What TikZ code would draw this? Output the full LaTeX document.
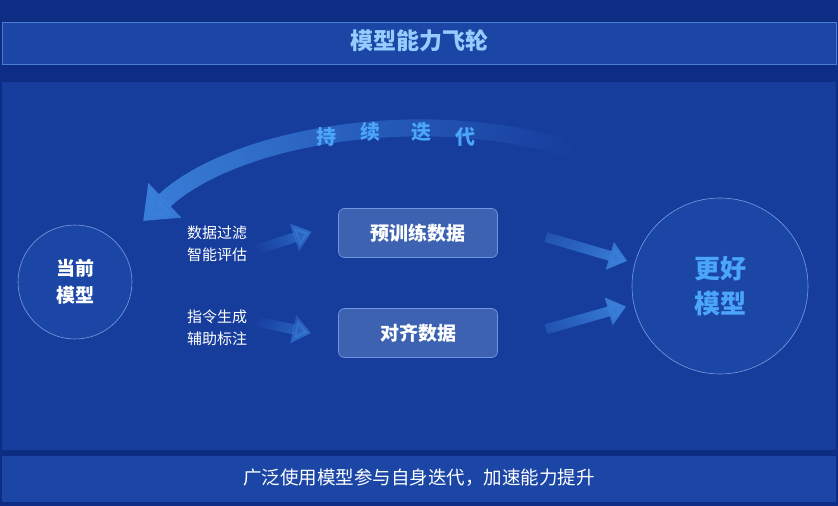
\documentclass[tikz,border=0pt]{standalone}
\usepackage{fontspec}
\setmainfont{Noto Sans CJK SC}
\usetikzlibrary{positioning,calc,arrows.meta,fadings}

\definecolor{bgblue}{RGB}{13,44,132}
\definecolor{panelblue}{RGB}{22,60,156}
\definecolor{barblue}{RGB}{27,70,165}
\definecolor{edgeblue}{RGB}{75,125,215}
\definecolor{arrowblue}{RGB}{58,128,218}
\definecolor{titleblue}{RGB}{150,205,255}
\definecolor{brightblue}{RGB}{75,165,250}

\tikzfading[name=tailfade, left color=transparent!100, middle color=transparent!30, right color=transparent!0]

\tikzset{
	bar/.style={fill=barblue, draw=edgeblue, line width=0.6pt},
	databox/.style={draw=edgeblue!80!white, line width=0.7pt, rounded corners=6pt,
		fill=barblue!85!white, minimum width=159pt, minimum height=49pt,
		text=white, font=\fontsize{19}{22}\selectfont\bfseries},
	model/.style={circle, draw=edgeblue!75!white, line width=0.6pt, fill=barblue,
		align=center},
	steplabel/.style={text=white, align=left, font=\fontsize{15}{22}\selectfont},
	fat/.style={arrowblue, line width=10pt, -{Triangle[length=18pt,width=28pt]},
		path fading=tailfade},
}

\begin{document}
\begin{tikzpicture}[x=1pt,y=-1pt]
	% background and bars
	\fill[bgblue] (0,0) rectangle (838,506);
	\useasboundingbox (0,0) rectangle (838,506);
	\fill[panelblue] (2,82) rectangle (836,450);
	\draw[bar] (2,22) rectangle (836,64);
	\fill[barblue] (2,456) rectangle (836,502);
	\node[text=titleblue, font=\fontsize{23}{26}\selectfont\bfseries] (title) at (419,41) {模型能力飞轮};
	\node[text=white, font=\fontsize{18.5}{22}\selectfont] (footer) at (419,478) {广泛使用模型参与自身迭代，加速能力提升};

	% models
	\node[model, minimum size=114pt, text=white, font=\fontsize{19}{27}\selectfont\bfseries] (cur) at (75,282)
		{当前\\ 模型};
	\node[model, minimum size=176pt, text=brightblue, font=\fontsize{26}{35}\selectfont\bfseries] (better) at (720,286)
		{更好\\ 模型};

	% data
	\node[databox] (pre) at (418,233) {预训练数据};
	\node[databox] (ali) at (418,333) {对齐数据};

	\node[steplabel] (lbl1) at (217,244) {数据过滤\\ 智能评估};
	\node[steplabel] (lbl2) at (217,328) {指令生成\\ 辅助标注};

	% arrows
	\draw[fat, fading angle=20, shorten <=-6pt, shorten >=28pt] ($(lbl1.east)+(0,8)$) -- ($(pre.west)+(0,-10)$);
	\draw[fat, fading angle=-16, shorten <=-6pt, shorten >=28pt] ($(lbl2.east)+(0,-8)$) -- ($(ali.west)+(0,6)$);
	\draw[fat, fading angle=-17, shorten <=50pt, shorten >=8pt] ($(pre.east)+(0,-10)$) -- (better.165);
	\draw[fat, fading angle=17, shorten <=50pt, shorten >=8pt] ($(ali.east)+(0,10)$) -- (better.192);

	% loop back
	\coordinate (loopstart) at (575,150);
	\coordinate (looptip) at (143,221);
	\draw[arrowblue, line width=17pt, -{Triangle[length=30pt,width=46pt]},
		path fading=tailfade, fading angle=180]
		(loopstart) .. controls (420,102) and (230,138) .. (looptip);
	\foreach \ch/\px/\py in {持/326/137, 续/370/132, 迭/421/132, 代/465/137}
		\node[text=brightblue, font=\fontsize{20}{24}\selectfont\bfseries] at (\px,\py) {\ch};
\end{tikzpicture}
\end{document}
